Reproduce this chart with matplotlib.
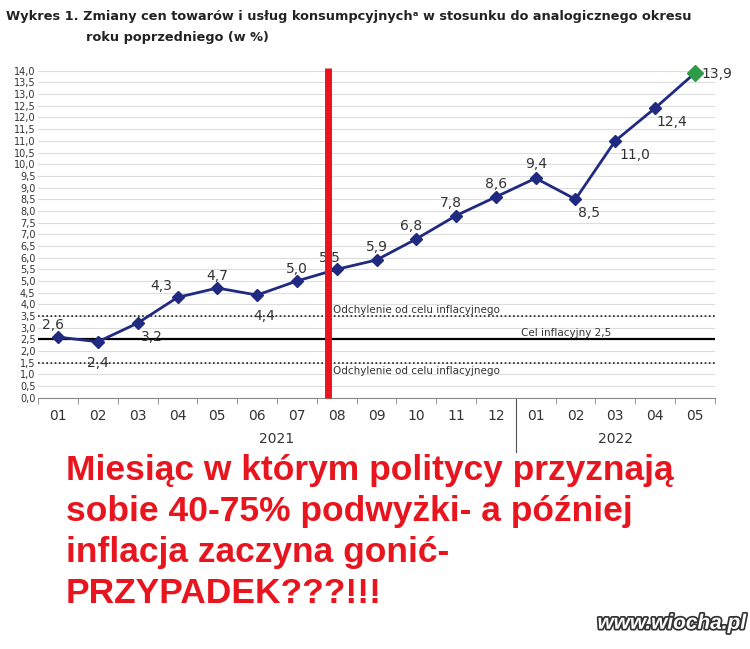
import matplotlib
matplotlib.use("Agg")
import matplotlib.pyplot as plt
import matplotlib.patheffects as pe

months = ["01","02","03","04","05","06","07","08","09","10","11","12","01","02","03","04","05"]
values = [2.6,2.4,3.2,4.3,4.7,4.4,5.0,5.5,5.9,6.8,7.8,8.6,9.4,8.5,11.0,12.4,13.9]
labels = ["2,6","2,4","3,2","4,3","4,7","4,4","5,0","5,5","5,9","6,8","7,8","8,6","9,4","8,5","11,0","12,4","13,9"]
offs = [(-4,9),(0,-15),(10,-10),(-12,8),(0,9),(5,-15),(0,9),(-5,8),(0,9),(-4,9),(-4,9),(0,9),(0,10),(10,-10),(14,-10),(12,-10),(16,-1)]

fig = plt.figure(figsize=(7.5,6.49), dpi=100)
ax = fig.add_axes([0.051,0.387,0.902,0.504])
x = list(range(len(values)))
ax.set_xlim(-0.5,16.5); ax.set_ylim(0,14)
yt = [i*0.5 for i in range(29)]
ax.set_yticks(yt)
ax.set_yticklabels([f"{v:.1f}".replace(".",",") for v in yt], fontsize=7, color="#333")
for v in yt[1:]:
    ax.axhline(v, color="#dddddd", lw=0.8, zorder=0)
ax.axhline(3.5, color="#222", lw=1.2, ls=(0,(1,1.5)))
ax.axhline(1.5, color="#222", lw=1.2, ls=(0,(1,1.5)))
ax.axhline(2.5, color="black", lw=1.6)
ax.text(6.9,3.65,"Odchylenie od celu inflacyjnego",fontsize=7.5,color="#333")
ax.text(6.9,1.0,"Odchylenie od celu inflacyjnego",fontsize=7.5,color="#333")
ax.text(13.9,2.65,"Cel inflacyjny 2,5",fontsize=7.5,color="#333",ha="right")
ax.plot(x,values,color="#1f2a80",lw=2,marker="D",ms=6,zorder=3,clip_on=False)
ax.plot(x[-1:],values[-1:],marker="D",ms=8,color="#2e9a4a",ls="none",zorder=4,clip_on=False)
for xi,v,l,(dx,dy) in zip(x,values,labels,offs):
    ax.annotate(l,(xi,v),xytext=(dx,dy),textcoords="offset points",ha="center",va="center",fontsize=10,color="#333")
ax.set_xticks(x)
ax.set_xticklabels(months,fontsize=10,color="#333")
ax.set_xticks([i+0.5 for i in range(-1,17)],minor=True)
ax.tick_params(axis="x",which="major",length=0,pad=8)
ax.tick_params(axis="x",which="minor",length=4,color="#888")
ax.tick_params(axis="y",length=0,pad=2)
for s in ["top","right","left"]:
    ax.spines[s].set_visible(False)
ax.spines["bottom"].set_color("#888")
ax.text(5.5,-1.95,"2021",ha="center",fontsize=10,color="#333")
ax.text(14,-1.95,"2022",ha="center",fontsize=10,color="#333")
ax.plot([11.5,11.5],[0,-2.3],color="#555",lw=0.8,clip_on=False)
ax.plot([6.79,6.79],[0,14.1],color="#e8141e",lw=5,solid_capstyle="butt",clip_on=False,zorder=5)

fig.text(0.008,0.985,"Wykres 1. Zmiany cen towarów i usług konsumpcyjnychᵃ w stosunku do analogicznego okresu",fontsize=9.3,weight="bold",va="top",color="#222")
fig.text(0.115,0.952,"roku poprzedniego (w %)",fontsize=9.3,weight="bold",va="top",color="#222")
red = "Miesiąc w którym politycy przyznają\nsobie 40-75% podwyżki- a później\ninflacja zaczyna gonić-\nPRZYPADEK???!!!"
fig.text(0.088,0.3,red,fontsize=25.5,weight="bold",color="#e8141e",family="Liberation Sans",va="top",linespacing=1.3)
t = fig.text(0.995,0.025,"www.wiocha.pl",fontsize=15,weight="bold",style="italic",color="white",ha="right",va="bottom",family="Liberation Sans")
t.set_path_effects([pe.withStroke(linewidth=2.5,foreground="#333")])
fig.savefig("out.png",dpi=100)
